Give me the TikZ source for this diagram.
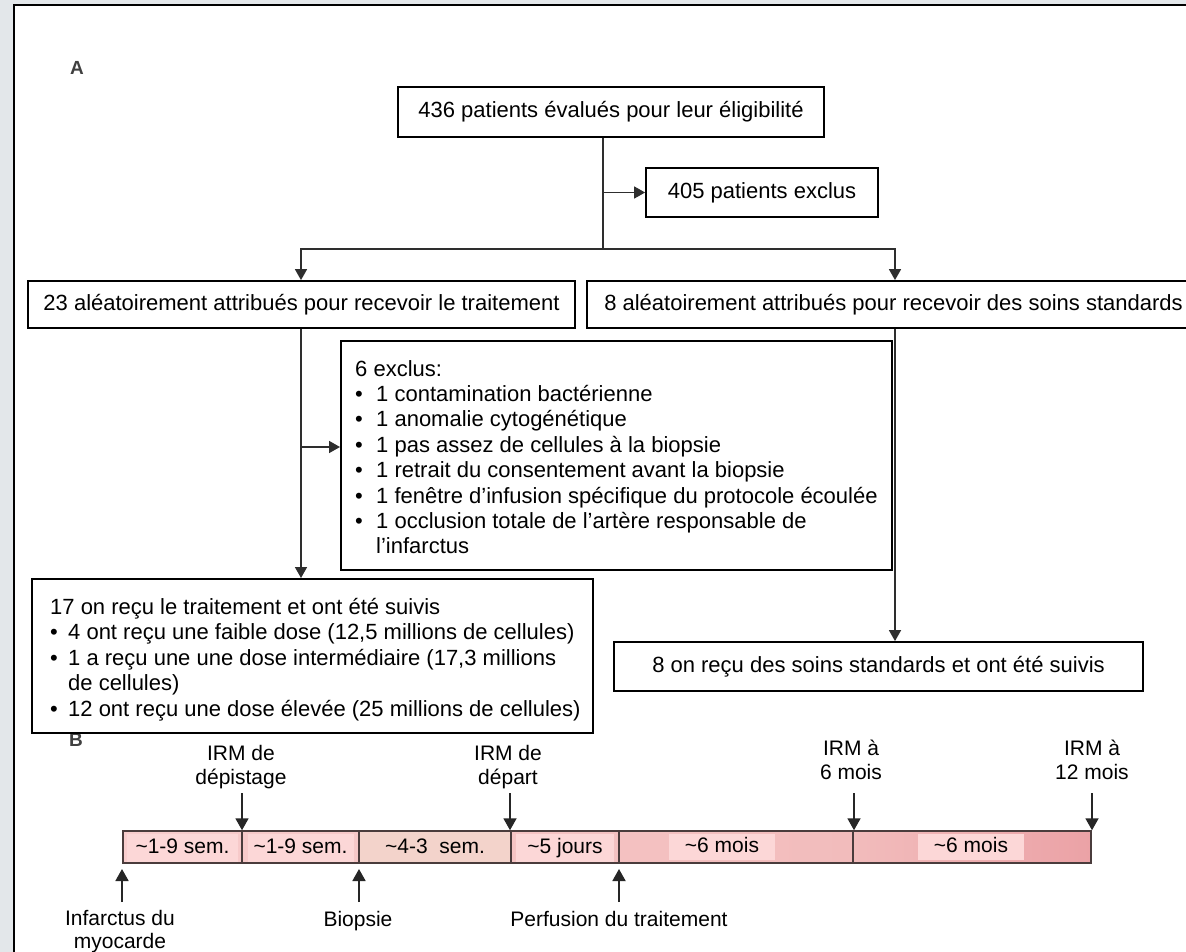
\documentclass[tikz,border=0pt]{standalone}
\usepackage{fontspec}
\setmainfont{Liberation Sans}
\usetikzlibrary{arrows.meta}

\definecolor{pagebg}{HTML}{E3E7EA}
\definecolor{linegray}{HTML}{2E2E2E}
\definecolor{barpink}{HTML}{F8CDCD}
\definecolor{barmid}{HTML}{F2BCBC}
\definecolor{barpinkdark}{HTML}{EBA2A6}
\definecolor{barbeige}{HTML}{F3D3CB}
\definecolor{labelpink}{HTML}{FCD7D7}
\definecolor{baredge}{HTML}{4A3C3C}

% bullet set in a fixed-width box so that the item text lines up
\newcommand\blt[1][21pt]{\makebox[#1][l]{\textbullet}}
\newcommand\tld{\textasciitilde}

\begin{document}
\begin{tikzpicture}[x=1pt,y=-1pt,
  font=\fontsize{22}{25.4}\selectfont,
  box/.style={draw=black, line width=1.8pt, fill=white, inner sep=0pt},
  txt/.style={inner sep=0pt, align=left, anchor=north west},
  conn/.style={draw=linegray, line width=1.6pt},
  arr/.style={conn, -{Triangle[length=11pt,width=12pt]}},
  tarr/.style={draw=black!85, line width=1.8pt, -{Triangle[length=12pt,width=13pt]}},
  seglabel/.style={fill=labelpink, inner sep=0pt, minimum height=28pt,
                   text height=15pt, text depth=4pt},
  panel/.style={font=\fontsize{19}{21}\selectfont\bfseries, text=black!75, inner sep=0pt},
  tlabel/.style={align=center, inner sep=0pt, anchor=north,
                 font=\fontsize{21}{24}\selectfont}
]
\useasboundingbox (0,0) rectangle (1186,952);

% page and panel frame
\fill[pagebg] (0,0) rectangle (1186,952);
\fill[white] (14,5) rectangle (1186,952);
\draw[black, line width=1.4pt] (14,952) -- (14,5) -- (1186,5);

% ---------------- part A: flow chart ----------------
\node[panel] (labA) at (77,68) {A};

\node[box, minimum width=426pt, minimum height=50pt] (elig) at (611,112)
  {436 patients évalués pour leur éligibilité};
\node[box, minimum width=232pt, minimum height=49pt] (excl405) at (762,192.5)
  {405 patients exclus};
\node[box, minimum width=547pt, minimum height=47pt] (rand23) at (301.5,304.5)
  {23 aléatoirement attribués pour recevoir le traitement};
\node[box, minimum width=613pt, minimum height=47pt] (rand8) at (893.5,304.5)
  {8 aléatoirement attribués pour recevoir des soins standards};

\node[box, minimum width=551pt, minimum height=229pt, anchor=north west] (excl6) at (340,340) {};
\node[txt] (excl6txt) at (355,360)
  {6 exclus:\\
   \blt 1 contamination bactérienne\\
   \blt 1 anomalie cytogénétique\\
   \blt 1 pas assez de cellules à la biopsie\\
   \blt 1 retrait du consentement avant la biopsie\\
   \blt 1 fenêtre d’infusion spécifique du protocole écoulée\\
   \blt 1 occlusion totale de l’artère responsable de\\
   \hspace*{21pt}l’infarctus};

% panel B letter sits partly under the treated-group box
\node[panel] (labB) at (76,740) {B};

\node[box, minimum width=561pt, minimum height=154pt, anchor=north west] (treat17) at (31,578) {};
\node[txt] (treat17txt) at (50,598)
  {17 on reçu le traitement et ont été suivis\\
   \blt[18pt]4 ont reçu une faible dose (12,5 millions de cellules)\\
   \blt[18pt]1 a reçu une une dose intermédiaire (17,3 millions\\
   \hspace*{18pt}de cellules)\\
   \blt[18pt]12 ont reçu une dose élevée (25 millions de cellules)};

\node[box, minimum width=529pt, minimum height=49pt] (std8) at (878.5,666.5)
  {8 on reçu des soins standards et ont été suivis};

% connectors
\coordinate (split) at (603,249);
\coordinate (lb) at (301,249);
\coordinate (rb) at (895,249);
\coordinate (side6) at (301,447);

\draw[conn] (elig.south -| split) -- (split);
\draw[arr] (split |- excl405.west) -- (excl405.west);
\draw[arr] (split) -- (lb) -- (lb |- rand23.north);
\draw[arr] (split) -- (rb) -- (rb |- rand8.north);
\draw[arr] (rand23.south -| lb) -- (treat17.north -| lb);
\draw[arr] (side6) -- (side6 -| excl6.west);
\draw[arr] (rand8.south -| rb) -- (std8.north -| rb);

% ---------------- part B: time line ----------------
\shade[left color=barpink, right color=barmid] (123,831) rectangle (853,863);
\shade[left color=barmid, right color=barpinkdark] (853,831) rectangle (1091,863);
\fill[barbeige] (359,831) rectangle (511,863);

\begin{scope}[font=\fontsize{21}{24}\selectfont]
\node[seglabel, minimum width=111pt] (s1) at (182.5,847.5) {\tld1-9 sem.};
\node[seglabel, minimum width=106pt] (s2) at (300.5,847.5) {\tld1-9 sem.};
\node[seglabel, fill=barbeige, minimum width=120pt] (s3) at (435,847.5) {\tld4-3\ \ sem.};
\node[seglabel, minimum width=98pt] (s4) at (565,847.5) {\tld5 jours};
\node[seglabel, minimum width=106pt, minimum height=26pt] (s5) at (722,846.5) {\tld6 mois};
\node[seglabel, minimum width=106pt, minimum height=26pt] (s6) at (971,846.5) {\tld6 mois};
\end{scope}

\node[draw=baredge, line width=1.5pt, inner sep=0pt, minimum width=968pt, minimum height=32pt] (bar) at (607,847) {};
\foreach \x in {242,359,511,619,853}
  \draw[baredge, line width=1.5pt] (\x,831) -- (\x,863);

% examinations above the line
\node[tlabel] (irm1) at (241,745) {IRM de\\dépistage};
\node[tlabel] (irm2) at (508,745) {IRM de\\départ};
\node[tlabel] (irm3) at (851,740) {IRM à\\6 mois};
\node[tlabel] (irm4) at (1092,740) {IRM à\\12 mois};

\coordinate (d1) at (242,793); \coordinate (d2) at (510,793);
\coordinate (d3) at (854,793); \coordinate (d4) at (1092,793);
\draw[tarr] (d1) -- (d1 |- bar.north);
\draw[tarr] (d2) -- (d2 |- bar.north);
\draw[tarr] (d3) -- (d3 |- bar.north);
\draw[tarr] (d4) -- (d4 |- bar.north);

% events below the line
\node[tlabel, font=\fontsize{21}{23}\selectfont] (ev1) at (120,910) {Infarctus du\\myocarde};
\node[tlabel] (ev2) at (358,911) {Biopsie};
\node[tlabel] (ev3) at (619,911) {Perfusion du traitement};

\coordinate (u1) at (122,902); \coordinate (u2) at (359,902); \coordinate (u3) at (619,902);
\draw[tarr] (u1) -- (122,869);
\draw[tarr] (u2) -- (359,869);
\draw[tarr] (u3) -- (619,869);
\end{tikzpicture}
\end{document}
